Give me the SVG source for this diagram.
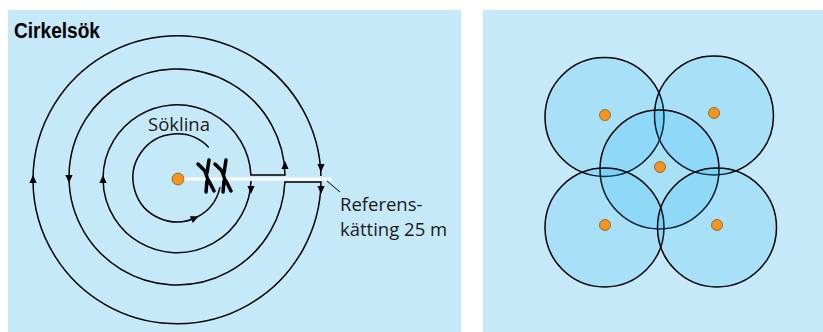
<svg xmlns="http://www.w3.org/2000/svg" xmlns:xlink="http://www.w3.org/1999/xlink" width="823" height="332" viewBox="0 0 823 332">
  <style>
    .panel { fill: #c6e9f9; }
    .ring { fill: none; stroke: #000; stroke-width: 1.5; }
    .zone { fill: #00aeef; fill-opacity: 0.15; stroke: #000; stroke-width: 1.5; }
    .dot { fill: #f7941d; stroke: #5a3a10; stroke-width: 0.6; }
    .label { font-family: "Open Sans", "Noto Sans", sans-serif; font-size: 18.5px; fill: #1a1a1a; }
    .title { font-family: "Liberation Sans", Arial, sans-serif; font-weight: bold; font-size: 22px; fill: #000; }
    .diver { fill: none; stroke: #000; stroke-width: 3.5; stroke-linecap: round; stroke-linejoin: round; }
  </style>
  <defs>
    <!-- small filled arrowhead pointing along +x -->
    <path id="ah" d="M4,0 L-4,-3.6 L-4,3.6 Z" fill="#000"/>
    <!-- diver holding the search line -->
    <g id="diver" class="diver">
      <path d="M-8,-12 L0,-4"/>
      <path d="M3,-16 L1,-3"/>
      <path d="M-1,-5 L3,7"/>
      <path d="M1,5 L0,16"/>
      <path d="M3,5 L8,15"/>
    </g>
  </defs>

  <!-- left panel: circle search -->
  <g id="panel-left">
    <rect class="panel" x="8" y="10" width="453" height="322"/>
    <text class="title" x="14" y="38" textLength="86" lengthAdjust="spacingAndGlyphs">Cirkelsök</text>
  </g>

  <!-- right panel background -->
  <rect class="panel" x="483" y="10" width="340" height="322"/>

  <!-- search path rings -->
  <g id="connectors">
    <path class="ring" d="M208.7,147.4 A44,44 0 1 0 220,187.1"/>
    <path class="ring" d="M251,181 A74,74 0 1 1 250.94,175 H285 A108,108 0 1 0 284.9,182 H321 A144,144 0 1 1 320.97,176"/>
    <!-- leader line to the reference chain label -->
    <path d="M327,181 L340,192" stroke="#000" stroke-width="1" fill="none"/>
  </g>

  <!-- arrowheads on the rings -->
  <g id="arrows">
    <use xlink:href="#ah" transform="translate(195,218) rotate(-24)"/>
    <use xlink:href="#ah" transform="translate(103,179) rotate(-90)"/>
    <use xlink:href="#ah" transform="translate(251,190) rotate(90)"/>
    <use xlink:href="#ah" transform="translate(69,179) rotate(90)"/>
    <use xlink:href="#ah" transform="translate(285,165) rotate(-90)"/>
    <use xlink:href="#ah" transform="translate(33,179) rotate(-90)"/>
    <use xlink:href="#ah" transform="translate(321,168) rotate(90)"/>
    <use xlink:href="#ah" transform="translate(321,190) rotate(90)"/>
  </g>

  <!-- reference chain -->
  <g id="chain">
    <line x1="180" y1="179" x2="332" y2="179" stroke="#fff" stroke-width="3"/>
  </g>

  <!-- centre point -->
  <g id="centre">
    <circle class="dot" cx="178" cy="179" r="6"/>
  </g>

  <!-- divers -->
  <g id="divers">
    <use xlink:href="#diver" transform="translate(206,176)"/>
    <use xlink:href="#diver" transform="translate(223,176)"/>
  </g>

  <g id="label-soklina">
    <text class="label" x="148" y="131">Söklina</text>
  </g>
  <g id="label-referens">
    <text class="label" x="340" y="211">Referens-</text>
    <text class="label" x="340" y="236">kätting 25 m</text>
  </g>

  <!-- right panel: overlapping search areas -->
  <g id="area-top-left">
    <circle class="zone" cx="604.5" cy="117" r="59.5"/>
  </g>
  <g id="area-top-right">
    <circle class="zone" cx="714" cy="115.5" r="59.5"/>
  </g>
  <g id="area-centre">
    <circle class="zone" cx="659.5" cy="169.5" r="59.5"/>
  </g>
  <g id="area-bottom-left">
    <circle class="zone" cx="604.5" cy="227.5" r="59.5"/>
  </g>
  <g id="area-bottom-right">
    <circle class="zone" cx="717" cy="227.5" r="59.5"/>
  </g>
  <g id="dots">
    <circle class="dot" cx="605" cy="115" r="5.5"/>
    <circle class="dot" cx="714" cy="113" r="5.5"/>
    <circle class="dot" cx="660" cy="167" r="5.5"/>
    <circle class="dot" cx="605" cy="225" r="5.5"/>
    <circle class="dot" cx="717" cy="225" r="5.5"/>
  </g>
</svg>
